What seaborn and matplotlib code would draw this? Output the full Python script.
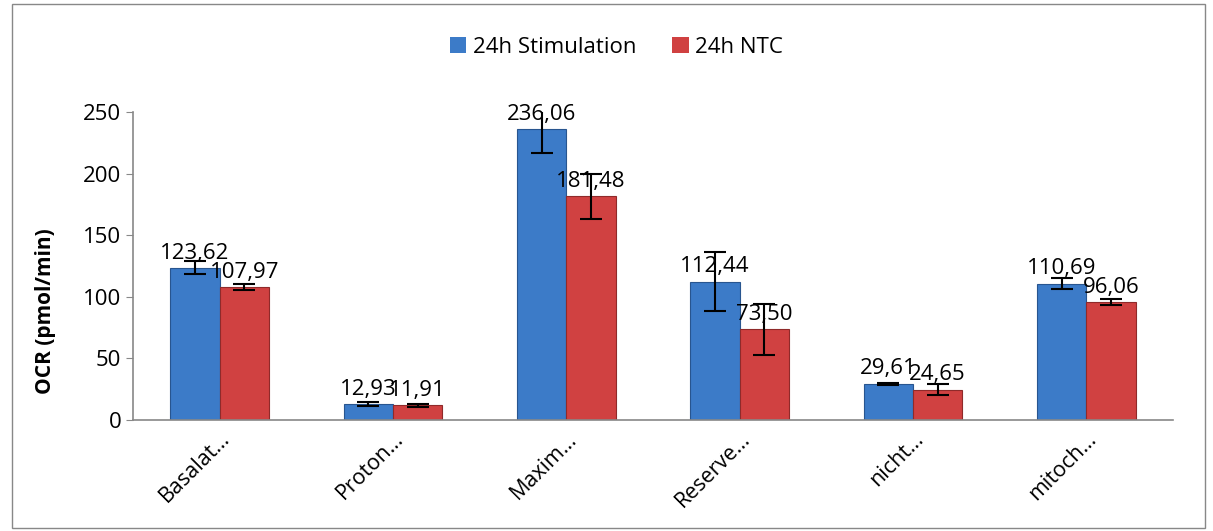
import numpy as np
import pandas as pd
import matplotlib
matplotlib.use("Agg")
import matplotlib.pyplot as plt
from matplotlib.patches import Rectangle
import seaborn as sns

# data
categories = ["Basalat…", "Proton…", "Maxim…", "Reserve…", "nicht…", "mitoch…"]
series = ["24h Stimulation", "24h NTC"]
stim_values = [123.62, 12.93, 236.06, 112.44, 29.61, 110.69]
ntc_values = [107.97, 11.91, 181.48, 73.50, 24.65, 96.06]
stim_err = [5.3, 1.5, 19.5, 24.0, 0.8, 4.3]
ntc_err = [2.5, 1.2, 18.0, 21.0, 4.5, 2.5]
yticks = [0, 50, 100, 150, 200, 250]

colors = ["#3C7BC8", "#D04141"]

df = pd.DataFrame({
  "cat": categories * 2,
  "series": [series[0]] * 6 + [series[1]] * 6,
  "val": stim_values + ntc_values,
  "err": stim_err + ntc_err,
})

sns.set_style("white")
plt.rcParams["font.family"] = ["Open Sans", "DejaVu Sans"]
plt.rcParams["text.color"] = "black"
plt.rcParams["axes.labelcolor"] = "black"

fig, ax = plt.subplots(figsize=(12.13, 5.31), dpi=100)
fig.subplots_adjust(left=0.1096, right=0.967, top=0.789, bottom=0.209)

sns.barplot(data=df, x="cat", y="val", hue="series", palette=colors,
            width=0.57, errorbar=None, ax=ax, edgecolor="none", saturation=1)

edge = ["#28558f", "#8f2a2a"]
for i, (container, vals, errs) in enumerate(zip(ax.containers, [stim_values, ntc_values], [stim_err, ntc_err])):
  for patch, v, e in zip(container.patches, vals, errs):
    patch.set_linewidth(0.8)
    patch.set_edgecolor(edge[i])
    xc = patch.get_x() + patch.get_width() / 2
    ax.errorbar(xc, v, yerr=e, fmt="none", ecolor="black", elinewidth=1.5,
                capsize=8, capthick=1.5, zorder=5)
    ax.annotate(f"{v:.2f}".replace(".", ","), (xc, v), xytext=(0, 3),
                textcoords="offset points", ha="center", va="bottom", fontsize=16)

ax.set_xlim(-0.5, 5.5)
ax.set_ylim(0, 250)
ax.set_yticks(yticks)
ax.set_xlabel("")
ax.set_ylabel("OCR (pmol/min)", fontsize=15, fontweight="bold")
ax.yaxis.set_label_coords(-0.074, 0.354)
ax.tick_params(axis="y", labelsize=16, length=5, color="#888888", direction="out",
               left=True, labelcolor="black")
ax.tick_params(axis="x", length=0, labelsize=15.5, pad=6, labelcolor="black")
for lab in ax.get_xticklabels():
  lab.set_rotation(45)
  lab.set_ha("right")
  lab.set_rotation_mode("anchor")

for side in ["top", "right"]:
  ax.spines[side].set_visible(False)
for side in ["left", "bottom"]:
  ax.spines[side].set_color("#888888")
  ax.spines[side].set_linewidth(1.2)

ax.legend(loc="center", bbox_to_anchor=(0.465, 1.21), ncol=2, frameon=False,
          fontsize=16, handlelength=0.75, handleheight=0.75, handletextpad=0.3,
          columnspacing=1.6)

fig.patches.append(Rectangle((0.01, 0.006), 0.983, 0.986, transform=fig.transFigure,
                             fill=False, edgecolor="#888888", linewidth=1))

fig.savefig("out.png", dpi=100)
